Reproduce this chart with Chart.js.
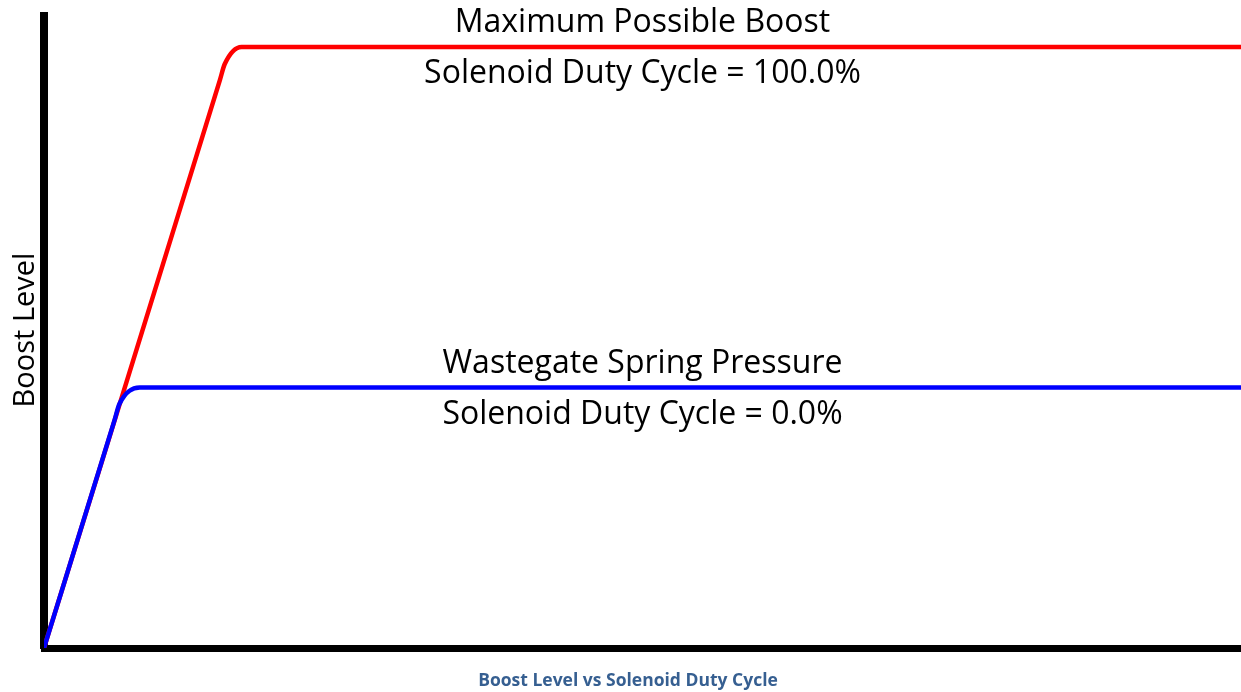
<!DOCTYPE html>
<html>
<head>
<meta charset="utf-8">
<title>Boost Level vs Solenoid Duty Cycle</title>
<script src="https://cdn.jsdelivr.net/npm/chart.js@4.4.1/dist/chart.umd.min.js"></script>
<style>
  html, body { margin: 0; padding: 0; background: #ffffff; }
  #wrap { width: 1241px; height: 692px; }
</style>
</head>
<body>
<div id="wrap"><canvas id="boostChart" width="1241" height="692"></canvas></div>
<script>
// Courbes de pression : rampe puis palier (x = régime, y = pression, échelle 0-100)
const springX = [0, 5.9, 6.3, 8.0, 100];
const springY = [0, 36.1, 38.6, 41.2, 41.2];
const maxBoostX = [0, 14.7, 15.1, 16.5, 100];
const maxBoostY = [0, 89.9, 92.4, 95.1, 95.1];

const springLabels = ["Wastegate Spring Pressure", "Solenoid Duty Cycle = 0.0%"];
const maxBoostLabels = ["Maximum Possible Boost", "Solenoid Duty Cycle = 100.0%"];
const yAxisTitle = "Boost Level";
const caption = "Boost Level vs Solenoid Duty Cycle";
const labelCenterX = 50;

const FONT = "'Open Sans', Lato, sans-serif";

function toPoints(xs, ys) {
  return xs.map((x, i) => ({ x, y: ys[i] }));
}

// Textes posés sur les paliers, titre vertical et légende sous le graphique
const textPlugin = {
  id: "boostText",
  afterDraw(chart) {
    const { ctx, scales: { x, y }, chartArea } = chart;
    const cx = x.getPixelForValue(labelCenterX);

    ctx.save();
    ctx.fillStyle = "#000000";
    ctx.font = `32px ${FONT}`;
    ctx.textAlign = "center";
    ctx.textBaseline = "alphabetic";

    const pairs = [
      [maxBoostLabels, maxBoostY[maxBoostY.length - 1]],
      [springLabels, springY[springY.length - 1]]
    ];
    for (const [labels, level] of pairs) {
      const py = y.getPixelForValue(level);
      ctx.fillText(labels[0], cx, py - 15);
      ctx.fillText(labels[1], cx, py + 36);
    }

    // titre de l'axe vertical
    ctx.save();
    ctx.font = `29px ${FONT}`;
    ctx.translate(34, (chartArea.top + chartArea.bottom) / 2 - 2);
    ctx.rotate(-Math.PI / 2);
    ctx.fillText(yAxisTitle, 0, 0);
    ctx.restore();

    ctx.font = `bold 17.5px ${FONT}`;
    ctx.fillStyle = "#365f91";
    ctx.fillText(caption, 628, 686);
    ctx.restore();
  }
};

new Chart(document.getElementById("boostChart"), {
  type: "line",
  data: {
    datasets: [
      {
        label: springLabels[0],
        data: toPoints(springX, springY),
        borderColor: "#0000ff",
        borderWidth: 4.5,
        cubicInterpolationMode: "monotone",
        pointRadius: 0,
        fill: false
      },
      {
        label: maxBoostLabels[0],
        data: toPoints(maxBoostX, maxBoostY),
        borderColor: "#ff0000",
        borderWidth: 4.5,
        cubicInterpolationMode: "monotone",
        pointRadius: 0,
        fill: false
      }
    ]
  },
  options: {
    responsive: false,
    animation: false,
    devicePixelRatio: 1,
    layout: { padding: { left: 44, right: 0, top: 16, bottom: 44 } },
    plugins: {
      legend: { display: false },
      tooltip: { enabled: false },
      title: { display: false }
    },
    scales: {
      x: {
        type: "linear",
        min: 0,
        max: 100,
        grid: { display: false },
        ticks: { display: false },
        border: { display: true, color: "#000000", width: 7 },
        afterFit: (scale) => { scale.height = 0; }
      },
      y: {
        type: "linear",
        min: 0,
        max: 100,
        grid: { display: false },
        ticks: { display: false },
        border: { display: true, color: "#000000", width: 8 },
        afterFit: (scale) => { scale.width = 0; }
      }
    }
  },
  plugins: [textPlugin]
});
</script>
</body>
</html>
